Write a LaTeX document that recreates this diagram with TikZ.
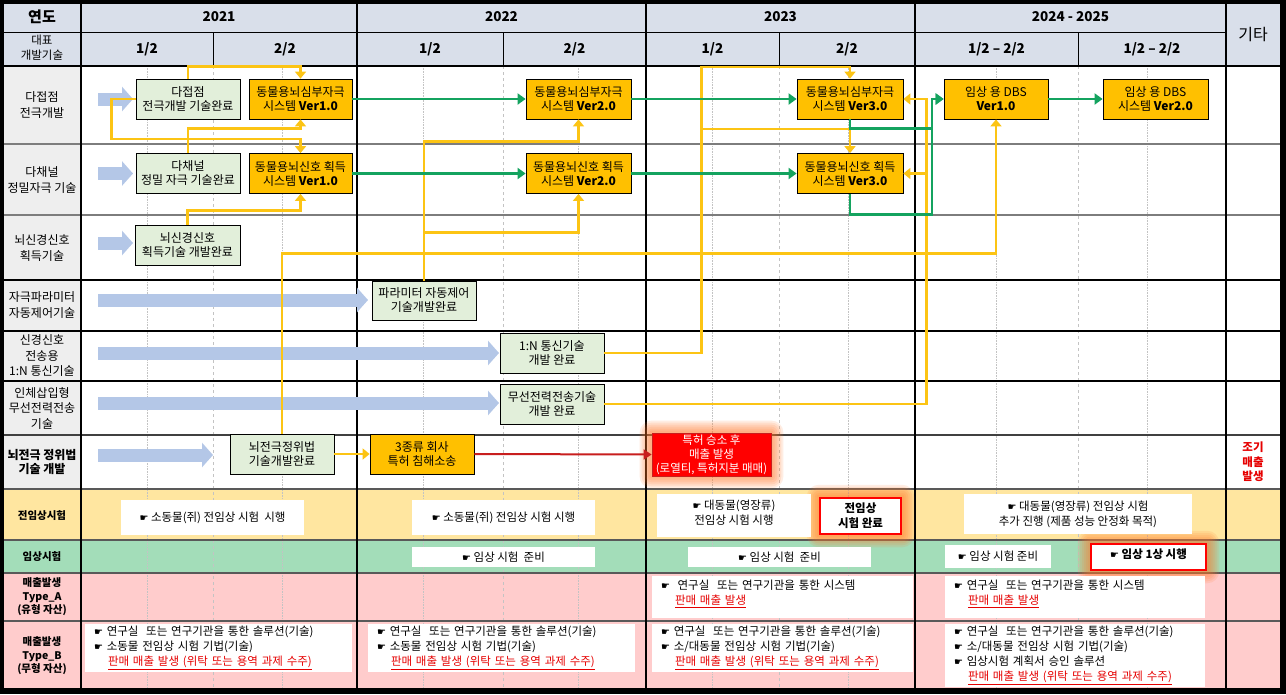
\documentclass[tikz,border=0pt]{standalone}
\usepackage{fontspec}
\setmainfont{Noto Sans CJK KR}
\newfontfamily\symfont{DejaVu Sans}
\usetikzlibrary{arrows.meta}
\pgfdeclarelayer{back}
\pgfdeclarelayer{glowlayer}
\pgfsetlayers{back,glowlayer,main}
\definecolor{hdr}{RGB}{217,223,234}
\definecolor{lab}{RGB}{238,238,238}
\definecolor{gbx}{RGB}{226,239,218}
\definecolor{obx}{RGB}{255,192,0}
\definecolor{ylw}{RGB}{252,196,20}
\definecolor{grn}{RGB}{20,163,95}
\definecolor{blu}{RGB}{180,199,231}
\definecolor{rowy}{RGB}{255,230,160}
\definecolor{rowg}{RGB}{163,221,185}
\definecolor{rowp}{RGB}{255,204,204}
\definecolor{redt}{RGB}{230,0,0}
\definecolor{rarrc}{RGB}{200,30,30}
\definecolor{glowc}{RGB}{255,120,40}
\definecolor{gridl}{RGB}{195,195,195}
\definecolor{rowline}{RGB}{125,125,125}
\newcommand\hand{{\symfont\fontsize{10}{10}\selectfont ☛}}
\newcommand\sale[1]{\textcolor{redt}{\underline{#1}}}
\begin{document}
\begin{tikzpicture}[x=1pt,y=-1pt,
 every node/.style={inner sep=0pt, align=center},
 bt/.style={font=\fontsize{12}{14}\selectfont},
 lbl/.style={font=\fontsize{12}{15.5}\selectfont},
 lblb/.style={font=\bfseries\fontsize{12}{14}\selectfont},
 lbls/.style={font=\bfseries\fontsize{10.5}{13.5}\selectfont},
 hdy/.style={font=\bfseries\fontsize{13.5}{16}\selectfont},
 gbox/.style={bt, draw=black, line width=0.8pt, fill=gbx, minimum width=104pt, minimum height=40pt},
 obox/.style={bt, draw=black, line width=0.8pt, fill=obx, minimum width=104pt, minimum height=40pt},
 wbox/.style={fill=white, font=\fontsize{11.5}{15}\selectfont},
 lbox/.style={wbox, align=left, inner xsep=9pt},
 redbox/.style={wbox, draw=red, line width=2.5pt, font=\bfseries\fontsize{11.5}{15}\selectfont},
 yl/.style={draw=ylw, line width=2.3pt},
 yarr/.style={yl, -{Triangle[length=7pt,width=11pt]}},
 garr/.style={draw=grn, line width=2.3pt, -{Triangle[length=8pt,width=11pt]}},
 rarr/.style={draw=rarrc, line width=2pt, -{Triangle[length=8pt,width=10pt]}},
 fat/.style={draw=blu, line width=13pt, -{Triangle[length=11pt,width=24pt]}},
]
% ---------- background and grid ----------
\begin{pgfonlayer}{back}
\fill[black] (0,0) rectangle (1286,694);
\fill[white] (4,4) rectangle (1280,688);
\fill[hdr] (4,4) rectangle (1280,66);
\fill[lab] (4,66) rectangle (81,489);
\fill[rowy] (4,489) rectangle (1280,540);
\fill[rowg] (4,540) rectangle (1280,573);
\fill[rowp] (4,573) rectangle (1280,688);
\foreach \x in {147,282,423,578,712,848,996,1147}
  \draw[gridl, line width=0.6pt, densely dotted] (\x,66) -- (\x,688);
\foreach \x in {213,503,779,1078}{
  \draw[gridl, line width=0.6pt, dashed] (\x,66) -- (\x,688);
  \draw[black, line width=1pt] (\x,32) -- (\x,66);
}
\foreach \y in {144,215}
  \draw[rowline, line width=2pt] (4,\y) -- (1280,\y);
\foreach \y in {280,331,381}
  \draw[black, line width=1.2pt] (4,\y) -- (1280,\y);
\draw[black!75, line width=1.5pt] (4,435) -- (1280,435);
\foreach \y in {489,540,573,621}
  \draw[black!65, line width=2pt] (4,\y) -- (1280,\y);
\draw[black, line width=1pt] (4,32) -- (1226,32);
\draw[black, line width=1.3pt] (4,66) -- (1280,66);
\foreach \x in {81,357,646,915,1226}
  \draw[black, line width=1.3pt] (\x,4) -- (\x,688);
\end{pgfonlayer}

% ---------- header ----------
\node[font=\bfseries\fontsize{15}{17}\selectfont] (yeondo) at (42,17) {연도};
\node[font=\fontsize{11.5}{15}\selectfont] (daepyo) at (42,48) {대표\\개발기술};
\node[hdy] (y21) at (219,17) {2021};
\node[hdy] (y22) at (501.5,17) {2022};
\node[hdy] (y23) at (780.5,17) {2023};
\node[hdy] (y24) at (1070.5,17) {2024 - 2025};
\node[hdy] (h21a) at (147,49) {1/2};
\node[hdy] (h21b) at (285,49) {2/2};
\node[hdy] (h22a) at (430,49) {1/2};
\node[hdy] (h22b) at (574.5,49) {2/2};
\node[hdy] (h23a) at (712.5,49) {1/2};
\node[hdy] (h23b) at (847,49) {2/2};
\node[hdy] (h24a) at (996.5,49) {1/2 – 2/2};
\node[hdy] (h24b) at (1152,49) {1/2 – 2/2};
\node[font=\fontsize{16}{18}\selectfont] (gita) at (1253,35) {기타};

% ---------- row labels ----------
\node[lbl] (l1) at (42,105) {다접점\\전극개발};
\node[lbl] (l2) at (42,180) {다채널\\정밀자극 기술};
\node[lbl] (l3) at (42,248) {뇌신경신호\\획득기술};
\node[lbl] (l4) at (42,305) {자극파라미터\\자동제어기술};
\node[lbl] (l5) at (42,356) {신경신호\\전송용\\1:N 통신기술};
\node[lbl] (l6) at (42,408) {인체삽입형\\무선전력전송\\기술};
\node[lblb] (l7) at (42,462) {뇌전극 정위법\\기술 개발};
\node[lbls] (l8) at (42,516) {전임상시험};
\node[lbls] (l9) at (42,557) {임상시험};
\node[lbls] (l10) at (42,597) {매출발생\\Type\_A\\(유형 자산)};
\node[lbls] (l11) at (42,656) {매출발생\\Type\_B\\(무형 자산)};
\node[font=\bfseries\fontsize{11.5}{14.5}\selectfont, text=redt] (early) at (1253,462) {조기\\매출\\발생};

% ---------- blue progress arrows ----------
\coordinate (f1s) at (98,99);   \coordinate (f1e) at (133,99);
\coordinate (f2s) at (98,173.5);\coordinate (f2e) at (133,173.5);
\coordinate (f3s) at (98,243);  \coordinate (f3e) at (133,243);
\coordinate (f4s) at (98,300);  \coordinate (f4e) at (368,300);
\coordinate (f5s) at (98,353);  \coordinate (f5e) at (499,353);
\coordinate (f6s) at (98,403);  \coordinate (f6e) at (499,403);
\coordinate (f7s) at (98,455);  \coordinate (f7e) at (213,455);
\foreach \i in {1,...,7} \draw[fat] (f\i s) -- (f\i e);

% ---------- technology boxes ----------
\node[gbox] (dj) at (188,99) {다접점\\전극개발 기술완료};
\node[obox, minimum width=103pt] (o1a) at (300.5,99) {동물용뇌심부자극\\시스템 \textbf{Ver1.0}};
\node[gbox] (dc) at (188,173.5) {다채널\\정밀 자극 기술완료};
\node[obox, minimum width=103pt] (o1b) at (300.5,173.5) {동물용뇌신호 획득\\시스템 \textbf{Ver1.0}};
\node[gbox, minimum width=105pt] (ns) at (187.5,245) {뇌신경신호\\획득기술 개발완료};
\node[gbox, minimum height=39pt] (pa) at (424,300.5) {파라미터 자동제어\\기술개발완료};
\node[obox, minimum width=105pt] (o2a) at (578.5,99) {동물용뇌심부자극\\시스템 \textbf{Ver2.0}};
\node[obox, minimum width=105pt] (o2b) at (578.5,173.5) {동물용뇌신호 획득\\시스템 \textbf{Ver2.0}};
\node[gbox] (cm) at (552,353) {1:N 통신기술\\개발 완료};
\node[gbox] (wp) at (552,404) {무선전력전송기술\\개발 완료};
\node[obox, minimum width=106pt] (o3a) at (850,99) {동물용뇌심부자극\\시스템 \textbf{Ver3.0}};
\node[obox, minimum width=106pt] (o3b) at (850,173.5) {동물용뇌신호 획득\\시스템 \textbf{Ver3.0}};
\node[obox] (d1) at (996,99) {임상 용 DBS\\\textbf{Ver1.0}};
\node[obox, minimum width=105pt] (d2) at (1155.5,99) {임상 용 DBS\\시스템 \textbf{Ver2.0}};
\node[gbox] (je) at (282,454) {뇌전극정위법\\기술개발완료};
\node[obox] (lit) at (422,454) {3종류 회사\\특허 침해소송};
\node[font=\fontsize{11.5}{14}\selectfont, fill=red, draw=rarrc, line width=0.8pt, text=white, minimum width=119pt, minimum height=43pt] (pat) at (711.5,454.5) {특허 승소 후\\매출 발생\\(로열티, 특허지분 매매)};

% ---------- lower section boxes ----------
\node[wbox, minimum width=183pt, minimum height=35pt] (p1) at (212.5,517.5) {\hand\ 소동물(쥐) 전임상 시험\ \ 시행};
\node[wbox, minimum width=183pt, minimum height=35pt] (p2) at (503.5,517.5) {\hand\ 소동물(쥐) 전임상 시험 시행};
\node[wbox, minimum width=154pt, minimum height=43pt] (p3) at (734,515.5) {\hand\ 대동물(영장류)\\전임상 시험 시행\\[-8pt]\mbox{}};
\node[redbox, minimum width=81pt, minimum height=36pt] (pc) at (860.5,516) {전임상\\시험 완료};
\node[wbox, minimum width=228pt, minimum height=40pt] (p5) at (1078,514) {\hand\ 대동물(영장류) 전임상 시험\\추가 진행 (제품 성능 안정화 목적)};

\node[wbox, minimum width=183pt, minimum height=20pt] (c1) at (503.5,557) {\hand\ 임상 시험\ \ 준비};
\node[wbox, minimum width=183pt, minimum height=20pt] (c2) at (779.5,557) {\hand\ 임상 시험\ \ 준비};
\node[wbox, minimum width=106pt, minimum height=23pt] (c3) at (998,556.5) {\hand\ 임상 시험 준비};
\node[redbox, minimum width=115pt, minimum height=26pt] (cf) at (1148.5,557) {\hand\ 임상 1상 시행\\[-8pt]\mbox{}};

\node[lbox, text width=243pt, minimum height=42pt] (a1) at (782.5,597) {\hand\ \ 연구실\ \ 또는 연구기관을 통한 시스템\\\hspace*{14pt}\sale{판매 매출 발생}\\[-6pt]\mbox{}};
\node[lbox, text width=242pt, minimum height=42pt] (a2) at (1075,597) {\hand\ 연구실\ \ 또는 연구기관을 통한 시스템\\\hspace*{14pt}\sale{판매 매출 발생}\\[-6pt]\mbox{}};
\node[lbox, text width=249pt, minimum height=48pt] (b1) at (218.5,648) {\hand\ 연구실\ \ 또는 연구기관을 통한 솔루션(기술)\\\hand\ 소동물 전임상 시험 기법(기술)\\\hspace*{14pt}\sale{판매 매출 발생 (위탁 또는 용역 과제 수주)}};
\node[lbox, text width=249pt, minimum height=48pt] (b2) at (501.5,648) {\hand\ 연구실\ \ 또는 연구기관을 통한 솔루션(기술)\\\hand\ 소동물 전임상 시험 기법(기술)\\\hspace*{14pt}\sale{판매 매출 발생 (위탁 또는 용역 과제 수주)}};
\node[lbox, text width=243pt, minimum height=48pt] (b3) at (782.5,648) {\hand\ 연구실\ \ 또는 연구기관을 통한 솔루션(기술)\\\hand\ 소/대동물 전임상 시험 기법(기술)\\\hspace*{14pt}\sale{판매 매출 발생 (위탁 또는 용역 과제 수주)}};
\node[lbox, text width=242pt, minimum height=63pt] (b4) at (1075,655.5) {\hand\ 연구실\ \ 또는 연구기관을 통한 솔루션(기술)\\\hand\ 소/대동물 전임상 시험 기법(기술)\\\hand\ 임상시험 계획서 승인 솔루션\\\hspace*{14pt}\sale{판매 매출 발생 (위탁 또는 용역 과제 수주)}};

% ---------- glow ----------
\begin{pgfonlayer}{glowlayer}
\foreach \n in {pat,pc,cf}{
  \foreach \g in {2,4,6,8,10,12}{
    \fill[glowc, opacity=0.13, rounded corners=\g pt] ([shift={(-\g,-\g)}]\n.north west) rectangle ([shift={(\g,\g)}]\n.south east);
  }
}
\end{pgfonlayer}

% ---------- yellow connectors ----------
\draw[yarr] (dj.north) -- ++(0,-12) -| (o1a.north);
\draw[yarr] (dj.west) -- ++(-24,0) -- ++(0,40) -| (o1b.north);
\draw[yarr] (dc.north) -- ++(0,-24.5) -| (o1a.south);
\draw[yarr] (ns.north) -- ++(0,-14) -| (o1b.south);
\draw[yarr] (pa.north) -- ++(0,-139) -| (o2a.south);
\draw[yarr] (pa.north) ++(0,-48) -| (o2b.south);
\draw[yarr] (je.north) -- ++(0,-180) -| (d1.south);
\draw[yarr] (cm.east) -- ++(97,0) -- ++(0,-286) -| (o3a.north);
\draw[yarr] (cm.east) ++(97,-224) -| (o3b.north);
\draw[yarr] (wp.east) -- ++(322,0) |- (o3a.east);
\draw[yarr] (wp.east) ++(322,0) |- (o3b.east);
\draw[yarr] (je.east) -- (lit.west);
\draw[rarr] (lit.east) -- (pat.west);

% ---------- green connectors ----------
\draw[garr] (o1a) -- (o2a);
\draw[garr] (o2a) -- (o3a);
\draw[garr] (o1b) -- (o2b);
\draw[garr] (o2b) -- (o3b);
\draw[garr] (o3a.south) -- ++(0,9) -- ++(82,0) |- (d1.west);
\draw[garr] (o3b.south) -- ++(0,20.5) -- ++(82,0) |- (d1.west);
\draw[garr] (d1) -- (d2);
\end{tikzpicture}
\end{document}
